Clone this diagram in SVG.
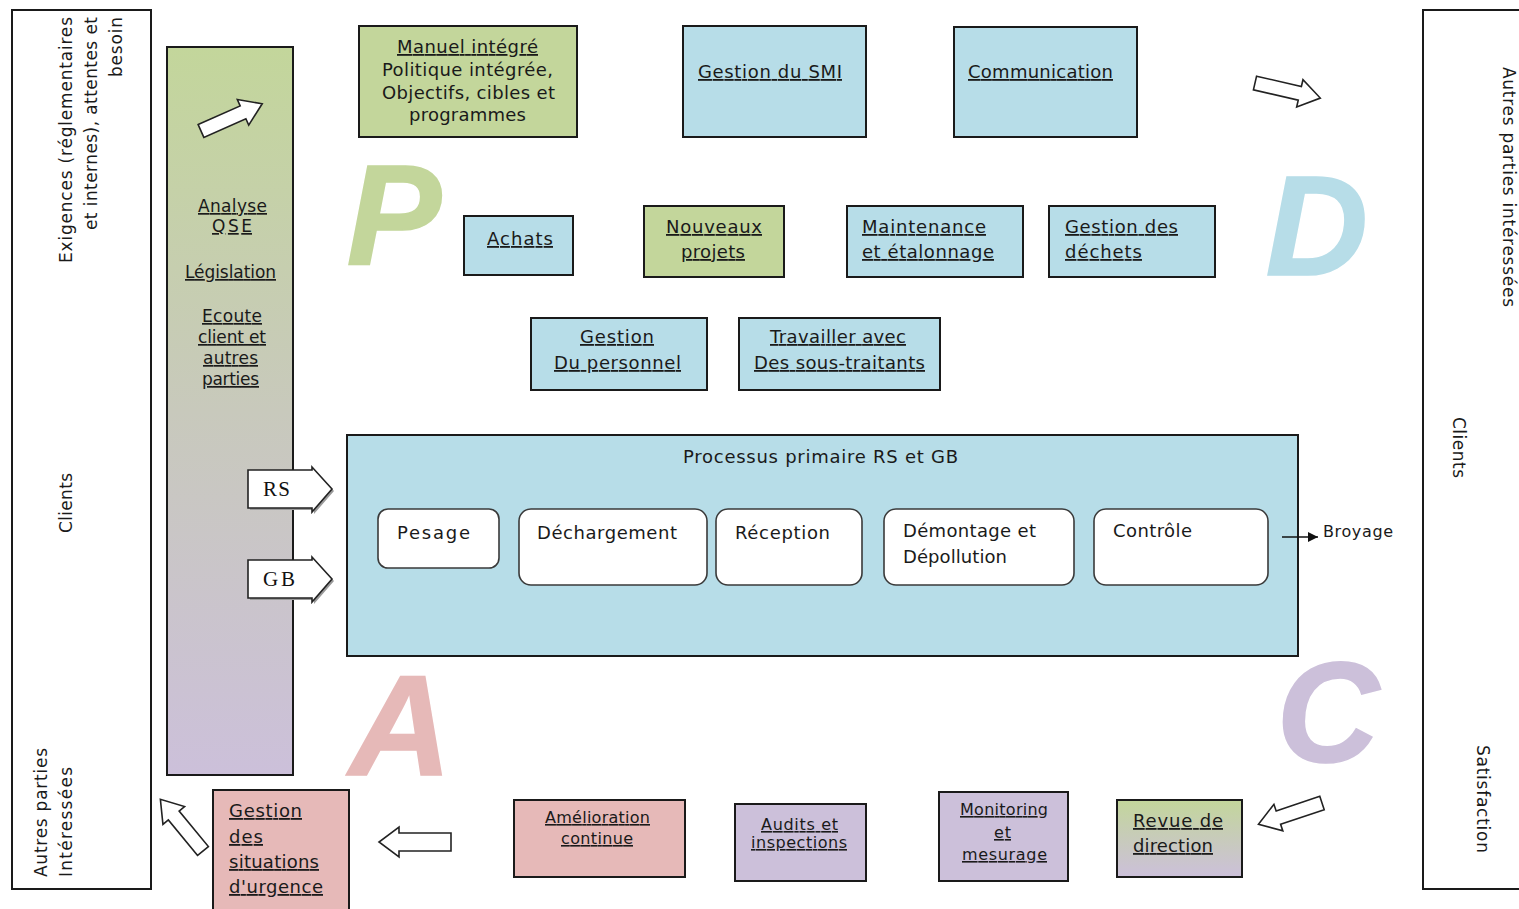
<svg xmlns="http://www.w3.org/2000/svg" xmlns:xlink="http://www.w3.org/1999/xlink" width="1519" height="909" viewBox="0 0 1519 909">
<style>
.frame{fill:#fff;stroke:#1a1a1a;stroke-width:2}
.box{stroke:#1a1a1a;stroke-width:2}
.blue{fill:#b7dde8}
.green{fill:#c3d69b}
.pink{fill:#e6b9b8}
.purple{fill:#ccc0da}
.t{font-family:"DejaVu Sans","Liberation Sans",sans-serif;font-size:18px;fill:#1a1a1a}
.s17{font-size:17px}
.s16{font-size:16px}
.u{text-decoration:underline}
.serif{font-family:"Liberation Serif",serif;font-size:21px;fill:#111}
.big{font-family:"Liberation Sans",Arial,sans-serif;font-weight:bold;font-style:italic;font-size:142px;stroke-width:1.5}
.barrow{fill:#fff;stroke:#222;stroke-width:1.6;stroke-linejoin:miter}
.step{fill:#fff;stroke:#3a3a3a;stroke-width:1.6}
.shadow{fill:#9a9a9a}
.line{stroke:#111;stroke-width:1.6;fill:none}
</style>
<defs>
<linearGradient id="gcol" x1="0" y1="0" x2="0" y2="1">
<stop offset="0" stop-color="#c3d69b"/>
<stop offset="0.5" stop-color="#c8c9bc"/>
<stop offset="1" stop-color="#ccc0da"/>
</linearGradient>
<linearGradient id="grev" x1="0" y1="0" x2="0" y2="1">
<stop offset="0" stop-color="#c3d69b"/>
<stop offset="1" stop-color="#ccc0da"/>
</linearGradient>
<path id="ba" d="M0,-7 L46,-7 L46,-14 L67,0 L46,14 L46,7 L0,7 Z"/>
<path id="ba2" d="M0,-9 L52,-9 L52,-15 L72,0 L52,15 L52,9 L0,9 Z"/>
<marker id="mh" viewBox="0 0 10 10" refX="10" refY="5" markerWidth="10" markerHeight="10" markerUnits="userSpaceOnUse" orient="auto">
<path d="M0,0 L10,5 L0,10 Z" fill="#111"/>
</marker>
</defs>
<rect width="1519" height="909" fill="#fff"/>

<!-- big PDCA letters -->
<g id="letters">
<text class="big" x="346.5" y="265" fill="#c3d69b" stroke="#c3d69b">P</text>
<text class="big" x="1265.5" y="275" fill="#b7dde8" stroke="#b7dde8">D</text>
<text class="big" x="349" y="775" fill="#e6b9b8" stroke="#e6b9b8">A</text>
<text class="big" x="1276.5" y="762" fill="#ccc0da" stroke="#ccc0da">C</text>
</g>

<g id="left-frame">
<rect class="frame" x="12" y="10" width="139" height="879"/>
<text class="t s17" transform="translate(72,263) rotate(-90)" textLength="246">Exigences (réglementaires</text>
<text class="t s17" transform="translate(97,230) rotate(-90)" textLength="213">et internes), attentes et</text>
<text class="t s17" transform="translate(122,77) rotate(-90)" textLength="60">besoin</text>
<text class="t s17" transform="translate(72,533) rotate(-90)" textLength="60">Clients</text>
<text class="t s17" transform="translate(47,877) rotate(-90)" textLength="129">Autres parties</text>
<text class="t s17" transform="translate(72,877) rotate(-90)" textLength="110">Intéressées</text>
</g>

<g id="right-frame">
<rect class="frame" x="1423" y="10" width="200" height="879"/>
<text class="t s17" transform="translate(1503,67) rotate(90)" textLength="240">Autres parties intéressées</text>
<text class="t s17" transform="translate(1453,417) rotate(90)" textLength="61">Clients</text>
<text class="t s17" transform="translate(1477,745) rotate(90)" textLength="108">Satisfaction</text>
</g>

<g id="analyse-column">
<rect class="box" x="167" y="47" width="126" height="728" fill="url(#gcol)"/>
<text class="t s17 u" x="198" y="212" textLength="69">Analyse</text>
<text class="t s17 u" x="212" y="232" textLength="40">QSE</text>
<text class="t s17 u" x="185" y="278" textLength="91">Législation</text>
<text class="t s17 u" x="202" y="322" textLength="60">Ecoute</text>
<text class="t s17 u" x="198" y="343" textLength="68">client et</text>
<text class="t s17 u" x="203" y="364" textLength="55">autres</text>
<text class="t s17 u" x="202" y="385" textLength="57">parties</text>
</g>

<g id="manuel">
<rect class="box green" x="359" y="26" width="218" height="111"/>
<text class="t u" x="397" y="53" textLength="141">Manuel intégré</text>
<text class="t" x="382" y="76" textLength="171">Politique intégrée,</text>
<text class="t" x="382" y="99" textLength="173">Objectifs, cibles et</text>
<text class="t" x="409" y="121" textLength="117">programmes</text>
</g>

<g id="gestion-smi">
<rect class="box blue" x="683" y="26" width="183" height="111"/>
<text class="t u" x="698" y="78" textLength="144">Gestion du SMI</text>
</g>

<g id="communication">
<rect class="box blue" x="954" y="27" width="183" height="110"/>
<text class="t u" x="968" y="78" textLength="145">Communication</text>
</g>

<g id="achats">
<rect class="box blue" x="464" y="216" width="109" height="59"/>
<text class="t u" x="487" y="245" textLength="66">Achats</text>
</g>

<g id="nouveaux-projets">
<rect class="box green" x="644" y="206" width="140" height="71"/>
<text class="t u" x="666" y="233" textLength="96">Nouveaux</text>
<text class="t u" x="681" y="258" textLength="64">projets</text>
</g>

<g id="maintenance">
<rect class="box blue" x="847" y="206" width="176" height="71"/>
<text class="t u" x="862" y="233" textLength="124">Maintenance</text>
<text class="t u" x="862" y="258" textLength="132">et étalonnage</text>
</g>

<g id="dechets">
<rect class="box blue" x="1049" y="206" width="166" height="71"/>
<text class="t u" x="1065" y="233" textLength="113">Gestion des</text>
<text class="t u" x="1065" y="258" textLength="77">déchets</text>
</g>

<g id="personnel">
<rect class="box blue" x="531" y="318" width="176" height="72"/>
<text class="t u" x="580" y="343" textLength="74">Gestion</text>
<text class="t u" x="554" y="369" textLength="127">Du personnel</text>
</g>

<g id="sous-traitants">
<rect class="box blue" x="739" y="318" width="201" height="72"/>
<text class="t u" x="770" y="343" textLength="136">Travailler avec</text>
<text class="t u" x="754" y="369" textLength="171">Des sous-traitants</text>
</g>

<g id="processus">
<rect class="box blue" x="347" y="435" width="951" height="221"/>
<text class="t" x="683" y="463" textLength="275">Processus primaire RS et GB</text>
</g>

<g id="pesage">
<rect class="step" x="378" y="509" width="121" height="59" rx="10"/>
<text class="t" x="397" y="539" textLength="73">Pesage</text>
</g>
<g id="dechargement">
<rect class="step" x="519" y="509" width="188" height="76" rx="12"/>
<text class="t" x="537" y="539" textLength="140">Déchargement</text>
</g>
<g id="reception">
<rect class="step" x="716" y="509" width="146" height="76" rx="12"/>
<text class="t" x="735" y="539" textLength="95">Réception</text>
</g>
<g id="demontage">
<rect class="step" x="884" y="509" width="190" height="76" rx="12"/>
<text class="t" x="903" y="537" textLength="133">Démontage et</text>
<text class="t" x="903" y="563" textLength="104">Dépollution</text>
</g>
<g id="controle">
<rect class="step" x="1094" y="509" width="174" height="76" rx="12"/>
<text class="t" x="1113" y="537" textLength="79">Contrôle</text>
</g>

<g id="broyage">
<text class="t s16" x="1323" y="537" textLength="70">Broyage</text>
</g>

<g id="urgence">
<rect class="box pink" x="213" y="790" width="136" height="130"/>
<text class="t u" x="229" y="817" textLength="73">Gestion</text>
<text class="t u" x="229" y="843" textLength="34">des</text>
<text class="t u" x="229" y="868" textLength="90">situations</text>
<text class="t u" x="229" y="893" textLength="94">d'urgence</text>
</g>

<g id="amelioration">
<rect class="box pink" x="514" y="800" width="171" height="77"/>
<text class="t s16 u" x="545" y="823" textLength="105">Amélioration</text>
<text class="t s16 u" x="561" y="844" textLength="72">continue</text>
</g>

<g id="audits">
<rect class="box purple" x="735" y="804" width="131" height="77"/>
<text class="t s16 u" x="761" y="830" textLength="77">Audits et</text>
<text class="t s16 u" x="751" y="848" textLength="96">inspections</text>
</g>

<g id="monitoring">
<rect class="box purple" x="939" y="792" width="129" height="89"/>
<text class="t s16 u" x="960" y="815" textLength="88">Monitoring</text>
<text class="t s16 u" x="994" y="838" textLength="17">et</text>
<text class="t s16 u" x="962" y="860" textLength="85">mesurage</text>
</g>

<g id="revue">
<rect class="box" x="1117" y="800" width="125" height="77" fill="url(#grev)"/>
<text class="t u" x="1133" y="827" textLength="90">Revue de</text>
<text class="t u" x="1133" y="852" textLength="80">direction</text>
</g>

<g id="connectors">
<use xlink:href="#ba" class="barrow" transform="translate(201,131) rotate(-24)"/>
<use xlink:href="#ba" class="barrow" transform="translate(1255,83) rotate(13)"/>
<use xlink:href="#ba" class="barrow" transform="translate(203,851) rotate(-129.5)"/>
<use xlink:href="#ba2" class="barrow" transform="translate(451,842) rotate(180)"/>
<use xlink:href="#ba" class="barrow" transform="translate(1322,803) rotate(161.5)"/>
<path class="shadow" d="M250,472 L314,472 L314,469 L334,491 L314,514 L314,510 L250,510 Z"/>
<path class="barrow" d="M248,470 L312,470 L312,467 L332,489 L312,512 L312,508 L248,508 Z"/>
<text class="serif" x="263" y="496" textLength="27">RS</text>
<path class="shadow" d="M250,562 L314,562 L314,559 L334,581 L314,604 L314,600 L250,600 Z"/>
<path class="barrow" d="M248,560 L312,560 L312,557 L332,579 L312,602 L312,598 L248,598 Z"/>
<text class="serif" x="263" y="586" textLength="32">GB</text>
<line class="line" x1="1282" y1="537" x2="1318" y2="537" marker-end="url(#mh)"/>
</g>
</svg>
